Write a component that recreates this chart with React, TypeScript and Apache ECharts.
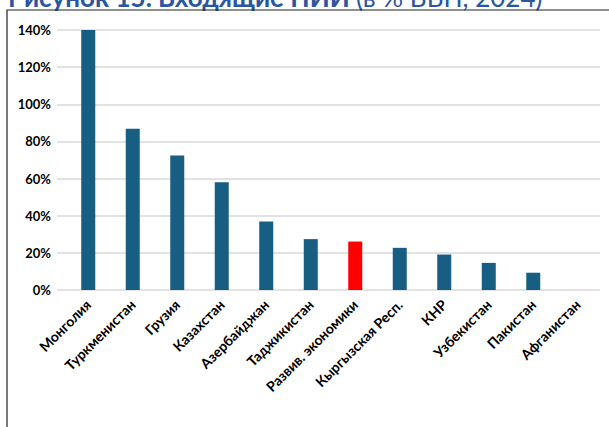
import React, { useEffect, useRef } from "react";
import * as echarts from "echarts";

const categories = [
  "Монголия",
  "Туркменистан",
  "Грузия",
  "Казахстан",
  "Азербайджан",
  "Таджикистан",
  "Развив. экономики",
  "Кыргызская Респ.",
  "КНР",
  "Узбекистан",
  "Пакистан",
  "Афганистан",
];
const values = [140, 86.8, 72.4, 58.0, 36.9, 27.4, 26.1, 22.7, 19.1, 14.6, 9.3, 0];
const highlighted = ["Развив. экономики"];
const yTicks = [0, 20, 40, 60, 80, 100, 120, 140];

const BLUE = "#175E82";
const RED = "#FF0000";
const FONT = "Lato";
const TITLE_COLOR = "#2A55A0";

export default function App() {
  const ref = useRef<HTMLDivElement>(null);
  useEffect(() => {
    if (!ref.current) return;
    const chart = echarts.init(ref.current, null, { renderer: "svg" });
    const yMin = yTicks[0];
    const yMax = yTicks[yTicks.length - 1];
    chart.setOption({
      animation: false,
      backgroundColor: "#ffffff",
      grid: [
        { left: 57, right: 9, top: 30, bottom: 137 },
        { left: 66, right: 9, top: 30, bottom: 137 },
      ],
      xAxis: [
        { type: "category", gridIndex: 0, data: categories, show: false },
        {
          type: "category",
          gridIndex: 1,
          data: categories,
          axisLine: { show: false },
          axisTick: { show: false },
          axisLabel: {
            interval: 0,
            rotate: 45,
            color: "#000",
            fontFamily: FONT,
            fontWeight: "bold",
            fontSize: 14,
            margin: 12,
          },
        },
      ],
      yAxis: [
        {
          type: "value",
          gridIndex: 0,
          min: yMin,
          max: yMax,
          interval: 20,
          axisLine: { show: false },
          axisTick: { show: false },
          axisLabel: {
            formatter: "{value}%",
            color: "#000",
            fontFamily: FONT,
            fontWeight: "bold",
            fontSize: 13,
            margin: 6,
          },
          splitLine: { lineStyle: { color: "#D9D9D9", width: 1.5 } },
        },
        {
          type: "value",
          gridIndex: 1,
          min: yMin,
          max: yMax,
          interval: 20,
          show: false,
          splitLine: { show: false },
        },
      ],
      graphic: [
        {
          type: "rect",
          shape: { x: 7, y: 10, width: 610, height: 440 },
          style: { fill: "none", stroke: "#222", lineWidth: 1.2 },
          z: 10,
        },
        {
          type: "text",
          x: 8,
          y: -3,
          style: {
            text: "{b|Рисунок 15. Входящие ПИИ }{r|(в % ВВП, 2024)}",
            verticalAlign: "middle",
            rich: {
              b: {
                fill: TITLE_COLOR,
                fontFamily: FONT,
                fontWeight: "bold",
                fontSize: 26,
              },
              r: {
                fill: TITLE_COLOR,
                fontFamily: FONT,
                fontSize: 26,
              },
            },
          },
        },
      ],
      series: [
        {
          type: "bar",
          xAxisIndex: 1,
          yAxisIndex: 1,
          barWidth: 14,
          data: values.map((v, i) => ({
            value: v,
            itemStyle: {
              color: highlighted.includes(categories[i]) ? RED : BLUE,
            },
          })),
        },
      ],
    });
    return () => chart.dispose();
  }, []);
  return (
    <div
      ref={ref}
      style={{ position: "fixed", left: 0, top: 0, width: 609, height: 427 }}
    />
  );
}
